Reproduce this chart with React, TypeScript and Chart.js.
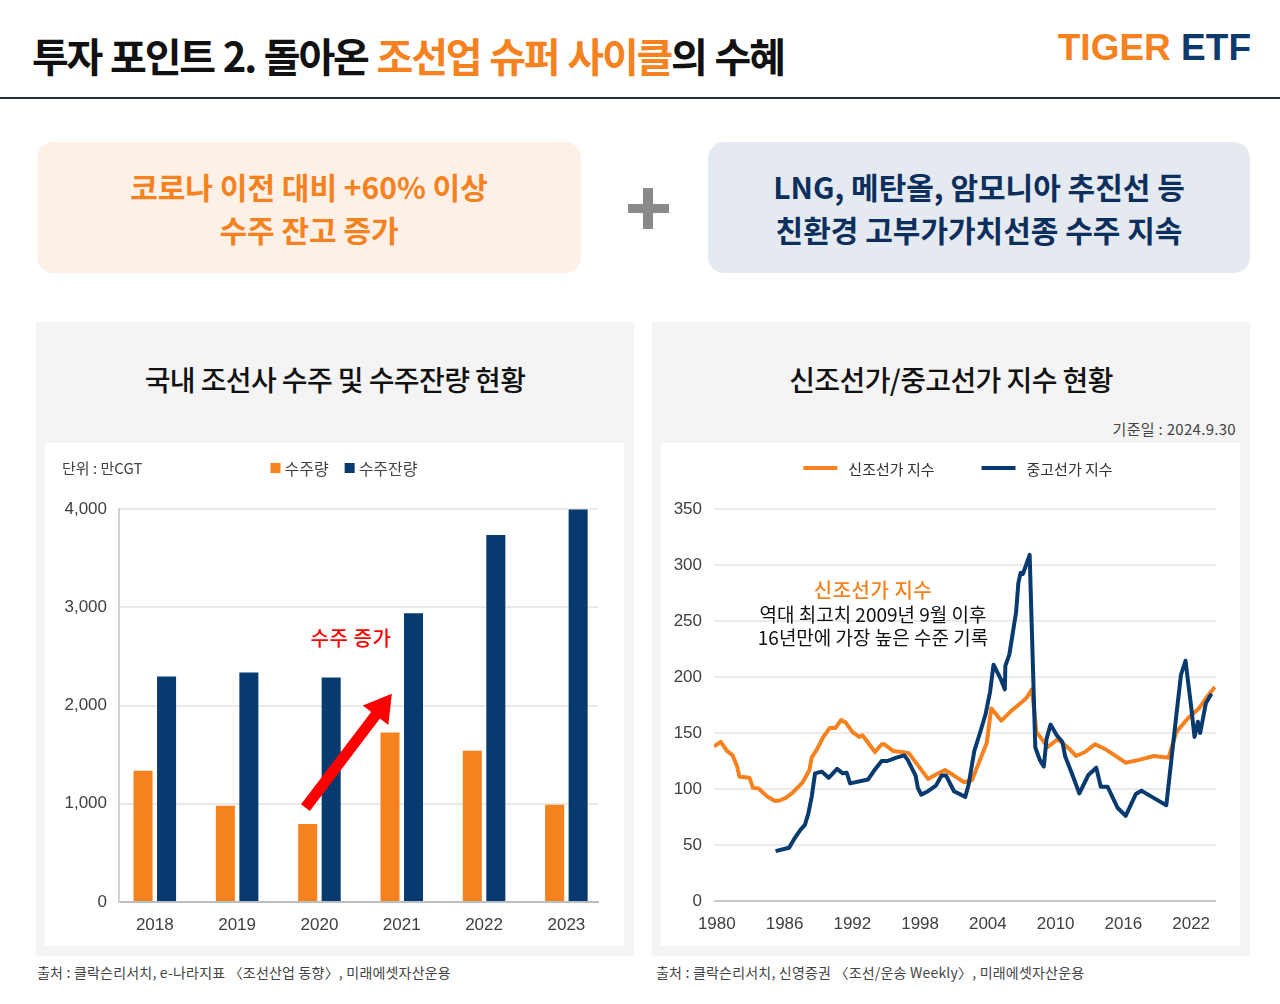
import React, { useEffect, useRef } from 'react';
import { Chart, registerables } from 'chart.js';

Chart.register(...registerables);

const KR = "'Noto Sans CJK KR', 'Noto Sans', sans-serif";
const NUM = "'Liberation Sans', Arial, sans-serif";
const ORANGE = '#f5821f';
const NAVY = '#073a6f';

// ---- Left chart: 국내 조선사 수주 및 수주잔량 (만CGT)
const orderYears = ['2018', '2019', '2020', '2021', '2022', '2023'];
const orderVolume = [1335, 980, 795, 1725, 1540, 990];
const orderBacklog = [2295, 2335, 2285, 2940, 3735, 3995];
const orderTicks = [0, 1000, 2000, 3000, 4000];
const arrowFrom = [1.83, 960];
const arrowTo = [2.88, 2120];

// ---- Right chart: 신조선가 / 중고선가 지수
const newbuildYears = [
  1979.75, 1980.35, 1980.9, 1981.4, 1981.8, 1982.0, 1982.9, 1983.2, 1983.7, 1984.5,
  1985.1, 1985.5, 1986.1, 1986.7, 1987.6, 1988.2, 1988.4, 1988.9, 1989.4, 1990.0,
  1990.5, 1991.0, 1991.4, 1992.0, 1992.6, 1992.9, 1994.0, 1994.6, 1994.8, 1995.6,
  1996.7, 1997.0, 1997.9, 1998.7, 1999.4, 2000.2, 2001.0, 2001.9, 2002.6, 2003.3,
  2003.9, 2004.3, 2005.2, 2006.1, 2006.7, 2007.4, 2007.9, 2008.3, 2009.3, 2010.2,
  2011.2, 2011.8, 2012.6, 2013.5, 2014.5, 2016.2, 2017.4, 2018.7, 2020.0, 2020.7,
  2021.7, 2022.7, 2023.3, 2024.1,
];
const newbuildIndex = [
  138, 142, 134, 130, 120, 111, 110, 101, 100.5, 93,
  89.5, 89.5, 92, 96.5, 106, 117, 128, 136, 146, 154.5,
  154.5, 161.5, 159.5, 151, 146.5, 148, 133, 140, 140, 134,
  132.5, 132, 120, 109, 113, 117, 112, 106, 108, 126,
  141, 172, 161, 170, 175, 181, 189, 151, 137.5, 144.5,
  136, 129.5, 133, 140, 135, 123.5, 126, 129.5, 128, 151,
  163, 172, 181, 191,
];
const secondhandYears = [
  1985.2, 1986.4, 1986.8, 1987.4, 1987.8, 1988.1, 1988.4, 1988.7, 1989.3, 1989.9,
  1990.65, 1991.15, 1991.5, 1991.8, 1993.4, 1993.9, 1994.6, 1995.1, 1995.9, 1996.6,
  1996.9, 1997.4, 1997.6, 1997.8, 1998.1, 1998.7, 1999.4, 1999.9, 2000.3, 2001.0,
  2002.0, 2002.3, 2002.8, 2003.3, 2003.8, 2004.2, 2004.5, 2005.1, 2005.5, 2005.55,
  2005.9, 2006.2, 2006.5, 2006.7, 2006.9, 2007.1, 2007.7, 2008.2, 2008.6, 2008.95,
  2009.2, 2009.55, 2010.1, 2010.6, 2010.85, 2011.4, 2012.1, 2012.9, 2013.6, 2014.0,
  2014.6, 2015.5, 2016.2, 2017.1, 2017.6, 2018.6, 2019.8, 2020.7, 2021.1, 2021.5,
  2022.0, 2022.3, 2022.6, 2022.8, 2023.3, 2023.8,
];
const secondhandIndex = [
  44.5, 47.5, 54.5, 63.5, 68, 78, 93, 114, 115.5, 110,
  118, 114, 114.5, 105, 108.5, 116, 125, 125, 128, 130,
  126, 116, 112, 101, 95, 98, 103, 112, 112, 98,
  93, 104, 134, 150, 167, 187, 211, 199, 189, 210,
  220, 239, 258, 284, 293, 292, 309, 137, 126, 120,
  145, 157.5, 148, 142, 129, 115, 96, 112.5, 119, 102,
  102, 83, 76, 95.5, 98.5, 92.5, 85.5, 167, 202, 214.5,
  173.5, 146.5, 160, 150, 176.5, 185,
];
const priceYearTicks = [1980, 1986, 1992, 1998, 2004, 2010, 2016, 2022];
const priceTicks = [0, 50, 100, 150, 200, 250, 300, 350];

// ---- custom legend drawn in one row
const inlineLegend = {
  id: 'inlineLegend',
  afterDraw(chart: any, _args: any, opts: any) {
    const { ctx } = chart;
    ctx.save();
    ctx.font = `${opts.fontSize}px ${KR}`;
    const items = chart.data.datasets.map((ds: any) => ({
      text: ds.label,
      color: (ds.type || chart.config.type) === 'line' ? ds.borderColor : ds.backgroundColor,
    }));
    const widths = items.map((it: any) => opts.boxW + opts.textGap + ctx.measureText(it.text).width);
    const total = widths.reduce((a: number, b: number) => a + b, 0) + opts.itemGap * (items.length - 1);
    let x = opts.centerX - total / 2;
    const y = opts.centerY;
    items.forEach((it: any, i: number) => {
      ctx.fillStyle = it.color;
      ctx.fillRect(x, y - opts.boxH / 2, opts.boxW, opts.boxH);
      ctx.fillStyle = opts.color;
      ctx.textAlign = 'left';
      ctx.textBaseline = 'middle';
      ctx.fillText(it.text, x + opts.boxW + opts.textGap, y + 1);
      x += widths[i] + opts.itemGap;
    });
    ctx.restore();
  },
};

// ---- red arrow annotation placed in data space
const trendArrow = {
  id: 'trendArrow',
  afterDatasetsDraw(chart: any, _args: any, opts: any) {
    if (!opts || !opts.from) return;
    const xs = chart.scales.x;
    const ys = chart.scales.y;
    const x1 = xs.getPixelForValue(opts.from[0]);
    const y1 = ys.getPixelForValue(opts.from[1]);
    const x2 = xs.getPixelForValue(opts.to[0]);
    const y2 = ys.getPixelForValue(opts.to[1]);
    const ang = Math.atan2(y2 - y1, x2 - x1);
    const len = Math.hypot(x2 - x1, y2 - y1);
    const headLen = 27;
    const headHalf = 16;
    const shaftHalf = 5.5;
    const { ctx } = chart;
    ctx.save();
    ctx.translate(x1, y1);
    ctx.rotate(ang);
    ctx.fillStyle = '#ff0000';
    ctx.beginPath();
    ctx.moveTo(0, -shaftHalf);
    ctx.lineTo(len - headLen, -shaftHalf);
    ctx.lineTo(len - headLen, -headHalf);
    ctx.lineTo(len, 0);
    ctx.lineTo(len - headLen, headHalf);
    ctx.lineTo(len - headLen, shaftHalf);
    ctx.lineTo(0, shaftHalf);
    ctx.closePath();
    ctx.fill();
    ctx.restore();
  },
};

const tickFont = { family: NUM, size: 17 };
const tickColor = '#404040';

function OrdersChart() {
  const ref = useRef<HTMLCanvasElement | null>(null);
  useEffect(() => {
    if (!ref.current) return;
    const chart = new Chart(ref.current, {
      type: 'bar',
      data: {
        datasets: [
          {
            label: '수주량',
            data: orderVolume.map((v, i) => ({ x: i, y: v })),
            backgroundColor: ORANGE,
            categoryPercentage: 0.571,
            barPercentage: 0.81,
          },
          {
            label: '수주잔량',
            data: orderBacklog.map((v, i) => ({ x: i, y: v })),
            backgroundColor: NAVY,
            categoryPercentage: 0.571,
            barPercentage: 0.81,
          },
        ],
      } as any,
      plugins: [inlineLegend, trendArrow],
      options: {
        animation: false,
        responsive: false,
        maintainAspectRatio: false,
        layout: { padding: { top: 66, right: 26, bottom: 0, left: 0 } },
        plugins: {
          legend: { display: false },
          tooltip: { enabled: false },
          inlineLegend: {
            centerX: 299, centerY: 25, fontSize: 16, boxW: 10, boxH: 10,
            textGap: 4, itemGap: 16, color: '#444444',
          },
          trendArrow: { from: arrowFrom, to: arrowTo },
        } as any,
        scales: {
          x: {
            type: 'linear',
            min: -0.435,
            max: 5.384,
            offset: false,
            grid: { display: false, drawTicks: false, offset: false },
            border: { display: true, color: '#bdbdbd', width: 2 },
            afterBuildTicks: (s: any) => { s.ticks = orderYears.map((_, i) => ({ value: i })); },
            afterFit: (s: any) => { s.height = 44; },
            ticks: {
              callback: (v: any) => orderYears[Math.round(Number(v))],
              font: tickFont, color: tickColor, padding: 13, maxRotation: 0, autoSkip: false,
            },
          },
          y: {
            min: 0,
            max: 4000,
            afterBuildTicks: (s: any) => { s.ticks = orderTicks.map((v) => ({ value: v })); },
            afterFit: (s: any) => { s.width = 74; },
            grid: { color: '#e9e9e9', lineWidth: 2, drawTicks: false },
            border: { display: true, color: '#d2d2d2', width: 2 },
            ticks: { font: tickFont, color: tickColor, padding: 12 },
          },
        },
      } as any,
    });
    return () => chart.destroy();
  }, []);
  return <canvas ref={ref} width={579} height={503} style={{ width: 579, height: 503, display: 'block' }} />;
}

function PriceChart() {
  const ref = useRef<HTMLCanvasElement | null>(null);
  useEffect(() => {
    if (!ref.current) return;
    const chart = new Chart(ref.current, {
      type: 'line',
      data: {
        datasets: [
          {
            label: '신조선가 지수',
            data: newbuildYears.map((x, i) => ({ x, y: newbuildIndex[i] })),
            borderColor: ORANGE,
            backgroundColor: ORANGE,
            borderWidth: 4,
            pointRadius: 0,
            tension: 0,
            borderJoinStyle: 'round',
            order: 1,
          },
          {
            label: '중고선가 지수',
            data: secondhandYears.map((x, i) => ({ x, y: secondhandIndex[i] })),
            borderColor: NAVY,
            backgroundColor: NAVY,
            borderWidth: 4,
            pointRadius: 0,
            tension: 0,
            borderJoinStyle: 'round',
            order: 0,
          },
        ],
      } as any,
      plugins: [inlineLegend],
      options: {
        animation: false,
        responsive: false,
        maintainAspectRatio: false,
        layout: { padding: { top: 66, right: 24, bottom: 0, left: 0 } },
        plugins: {
          legend: { display: false },
          tooltip: { enabled: false },
          inlineLegend: {
            centerX: 297, centerY: 25, fontSize: 15, boxW: 34, boxH: 4,
            textGap: 11, itemGap: 47, color: '#333333',
          },
        } as any,
        scales: {
          x: {
            type: 'linear',
            min: 1979.75,
            max: 2024.2,
            grid: { display: false, drawTicks: false },
            border: { display: false },
            afterBuildTicks: (s: any) => { s.ticks = priceYearTicks.map((v) => ({ value: v })); },
            afterFit: (s: any) => { s.height = 45; },
            ticks: {
              callback: (v: any) => String(v),
              font: tickFont, color: tickColor, padding: 13, maxRotation: 0, autoSkip: false,
            },
          },
          y: {
            min: 0,
            max: 350,
            afterBuildTicks: (s: any) => { s.ticks = priceTicks.map((v) => ({ value: v })); },
            afterFit: (s: any) => { s.width = 53; },
            grid: {
              color: (c: any) => (c.tick && c.tick.value === 0 ? '#c9c9c9' : '#ebebeb'),
              lineWidth: 2,
              drawTicks: false,
            },
            border: { display: false },
            ticks: { font: tickFont, color: tickColor, padding: 12 },
          },
        },
      } as any,
    });
    return () => chart.destroy();
  }, []);
  return <canvas ref={ref} width={579} height={503} style={{ width: 579, height: 503, display: 'block' }} />;
}

const abs = (o: React.CSSProperties): React.CSSProperties => ({ position: 'absolute', ...o });

function Centered({ x, y, children, style }: { x: number; y: number; children: React.ReactNode; style?: React.CSSProperties }) {
  return (
    <div style={abs({ left: x - 300, top: y - 15, width: 600, height: 30, lineHeight: '30px', textAlign: 'center', whiteSpace: 'nowrap', ...style })}>
      {children}
    </div>
  );
}

export default function App() {
  return (
    <div style={{ position: 'relative', width: 1280, height: 1004, background: '#ffffff', fontFamily: KR, overflow: 'hidden' }}>
      <style>{'body{margin:0;}'}</style>

      {/* header */}
      <div style={abs({ left: 32, top: 30, height: 50, lineHeight: '50px', fontSize: 40, fontWeight: 700, letterSpacing: '-2.2px', wordSpacing: '2px', color: '#111111', whiteSpace: 'nowrap' })}>
        투자 포인트 2. 돌아온 <span style={{ color: ORANGE }}>조선업 슈퍼 사이클</span>의 수혜
      </div>
      <div style={abs({ left: 1040, width: 211, top: 29, height: 38, lineHeight: '38px', textAlign: 'right', fontFamily: NUM, fontSize: 37, fontWeight: 700, letterSpacing: '0px', whiteSpace: 'nowrap' })}>
        <span style={{ color: ORANGE }}>TIGER</span>
        <span style={{ color: '#0d3a6c' }}> ETF</span>
      </div>
      <div style={abs({ left: 0, top: 97, width: 1280, height: 2, background: '#1c3140' })} />

      {/* highlight boxes */}
      <div style={abs({ left: 37, top: 142, width: 544, height: 131, borderRadius: 16, background: '#fdf0e6', display: 'flex', flexDirection: 'column', justifyContent: 'center', alignItems: 'center', color: ORANGE, fontSize: 30, fontWeight: 700, lineHeight: '43px', letterSpacing: '0px' })}>
        <div>코로나 이전 대비 +60% 이상</div>
        <div>수주 잔고 증가</div>
      </div>
      <div style={abs({ left: 643, top: 188, width: 10, height: 41, background: '#8a8a8a' })} />
      <div style={abs({ left: 628, top: 204, width: 41, height: 9, background: '#8a8a8a' })} />
      <div style={abs({ left: 708, top: 142, width: 542, height: 131, borderRadius: 16, background: '#e5eaf1', display: 'flex', flexDirection: 'column', justifyContent: 'center', alignItems: 'center', color: '#0c2f5e', fontSize: 30, fontWeight: 700, lineHeight: '43px', letterSpacing: '0px' })}>
        <div>LNG, 메탄올, 암모니아 추진선 등</div>
        <div>친환경 고부가가치선종 수주 지속</div>
      </div>

      {/* left panel */}
      <div style={abs({ left: 36, top: 322, width: 598, height: 634, background: '#f4f4f4' })} />
      <Centered x={335} y={379} style={{ fontSize: 28, fontWeight: 500, letterSpacing: '-0.6px', color: '#111111', height: 40, lineHeight: '40px', top: 359 }}>
        국내 조선사 수주 및 수주잔량 현황
      </Centered>
      <div style={abs({ left: 45, top: 443, width: 579, height: 503, background: '#ffffff' })}>
        <OrdersChart />
      </div>
      <div style={abs({ left: 62, top: 458, height: 20, lineHeight: '20px', fontSize: 15, color: '#444444', letterSpacing: '0px', whiteSpace: 'nowrap' })}>
        단위 : 만CGT
      </div>
      <Centered x={351} y={638} style={{ fontSize: 20, fontWeight: 500, color: '#ff0000', letterSpacing: '0.6px' }}>
        수주 증가
      </Centered>

      {/* right panel */}
      <div style={abs({ left: 652, top: 322, width: 598, height: 634, background: '#f4f4f4' })} />
      <Centered x={951} y={379} style={{ fontSize: 28, fontWeight: 500, letterSpacing: '-0.6px', color: '#111111', height: 40, lineHeight: '40px', top: 359 }}>
        신조선가/중고선가 지수 현황
      </Centered>
      <div style={abs({ left: 1000, width: 236, top: 419, height: 20, lineHeight: '20px', textAlign: 'right', fontSize: 15, color: '#444444', letterSpacing: '0.3px', whiteSpace: 'nowrap' })}>
        기준일 : 2024.9.30
      </div>
      <div style={abs({ left: 661, top: 443, width: 579, height: 503, background: '#ffffff' })}>
        <PriceChart />
      </div>
      <Centered x={873} y={590} style={{ fontSize: 20, fontWeight: 500, color: ORANGE, letterSpacing: '0.5px' }}>
        신조선가 지수
      </Centered>
      <Centered x={873} y={614} style={{ fontSize: 19, color: '#111111', letterSpacing: '0px' }}>
        역대 최고치 2009년 9월 이후
      </Centered>
      <Centered x={873} y={637} style={{ fontSize: 19, color: '#111111', letterSpacing: '0px' }}>
        16년만에 가장 높은 수준 기록
      </Centered>

      {/* sources */}
      <div style={abs({ left: 37, top: 962, height: 20, lineHeight: '20px', fontSize: 14, color: '#444444', letterSpacing: '0.2px', whiteSpace: 'nowrap' })}>
        출처 : 클락슨리서치, e-나라지표 〈조선산업 동향〉, 미래에셋자산운용
      </div>
      <div style={abs({ left: 656, top: 962, height: 20, lineHeight: '20px', fontSize: 14, color: '#444444', letterSpacing: '0.2px', whiteSpace: 'nowrap' })}>
        출처 : 클락슨리서치, 신영증권 〈조선/운송 Weekly〉, 미래에셋자산운용
      </div>
    </div>
  );
}
